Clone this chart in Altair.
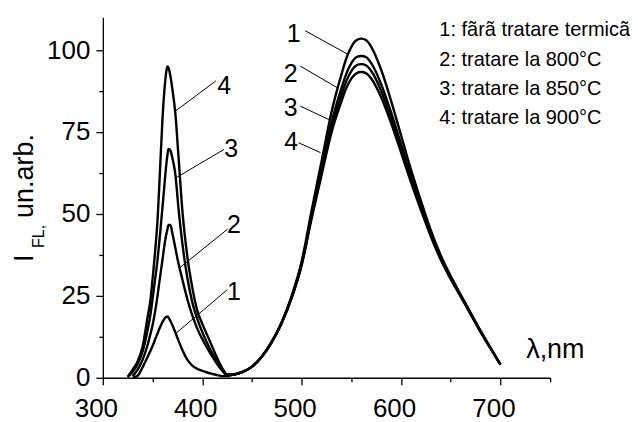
import altair as alt
import pandas as pd

# ---------------- data ----------------
wl = [325, 330, 335, 340, 345, 348, 350, 353, 355, 357, 360, 362, 364, 365, 366, 368,
      370, 373, 376, 380, 385, 390, 395, 400, 405, 410, 415, 420,
      425, 430, 440, 450, 460, 470, 480, 490, 500, 510, 520, 530, 540, 545, 550, 555,
      560, 565, 570, 580, 590, 600, 610, 620, 630, 640, 650, 660, 670, 680, 690, 700]

c1 = [None, 0, 0.6, 3.2, 6.3, 8.3, 9.7, 12, 13.5, 15, 17, 18, 18.6, 18.7, 18.4, 17.3,
      16, 13.8, 11.4, 8.5, 5.5, 3.7, 2.7, 2.1, 1.6, 1.2, 0.8, 0.5,
      0.5, 0.9, 1.7, 3.4, 6.5, 11, 17, 25, 35.5, 51, 66, 81, 92.5, 97.5, 101, 103,
      103.5, 103, 101, 94, 84.5, 74, 63.5, 54, 45, 37.3, 31, 25.4, 19.8, 14.3, 9.1, 4]

c2 = [None, 0.5, 2.5, 5.5, 10, 13.5, 16, 21, 25, 29.5, 36, 40.5, 44, 45.3, 46.6, 46.6,
      44, 39.5, 35, 30, 24, 19, 15, 11.8, 9, 6.5, 4.2, 2.2,
      0.8, 0.9, 1.7, 3.4, 6.5, 11, 16.9, 24.7, 34.9, 49.7, 63.8, 77.8, 88.3, 92.8, 96, 97.8,
      98.2, 97.8, 96, 89.6, 81, 71.3, 61.5, 52.6, 44, 36.6, 30.5, 25.1, 19.6, 14.2, 9.1, 4]

c3 = [0.2, 1.8, 4.2, 8, 14.5, 19.5, 24, 31, 36, 42, 52, 59, 65.5, 68, 69.8, 69.3,
      67, 62, 52, 41, 30.5, 23, 18, 14, 10.5, 7.5, 4.7, 2.4,
      0.9, 0.9, 1.7, 3.4, 6.5, 10.9, 16.8, 24.5, 34.6, 49.1, 62.8, 76.2, 86.3, 90.6, 93.6, 95.3,
      95.7, 95.3, 93.6, 87.6, 79.3, 70, 60.6, 51.9, 43.5, 36.3, 30.3, 24.9, 19.5, 14.1, 9.0, 4]

c4 = [0.3, 2.5, 5, 9.5, 18.5, 24, 30, 40, 48, 60, 79, 88, 93.8, 95, 94.7, 92,
      88, 80.5, 68, 51, 37, 27.5, 20.5, 16.5, 13, 9.5, 6, 3,
      1.0, 0.9, 1.7, 3.3, 6.4, 10.9, 16.7, 24.4, 34.3, 48.5, 61.8, 74.8, 84.3, 88.5, 91.3, 92.9,
      93.3, 92.9, 91.3, 85.6, 77.7, 68.8, 59.7, 51.2, 43.1, 36.0, 30.1, 24.8, 19.4, 14.0, 9.0, 4]

curve_names = ["1", "2", "3", "4"]

# curve-number annotations: label position and leader line (label end -> curve point)
ann_label = ["4", "3", "2", "1", "1", "2", "3", "4"]
ann_lx = [422, 429, 432, 432, 492, 489, 489, 489.5]
ann_ly = [89.3, 70, 46.8, 26.6, 105.2, 93, 82.6, 72.3]
lead_x1 = [413.7, 422, 425.3, 425.3, 503.7, 498.7, 498.7, 497]
lead_y1 = [90.6, 69.7, 45.3, 26.9, 105.9, 95.1, 82.9, 71.7]
lead_x2 = [373, 373.5, 377, 373.7, 546, 536.5, 528, 519]
lead_y2 = [81.4, 61, 33.5, 13.6, 98.8, 88.4, 78.7, 68.7]

legend_lines = ["1: fãrã tratare termicã",
                "2: tratare la 800°C",
                "3: tratare la 850°C",
                "4: tratare la 900°C"]

x_major = [300, 400, 500, 600, 700]
x_minor = [350, 450, 550, 650, 750]
y_major = [0, 25, 50, 75, 100]
y_minor = [12.5, 37.5, 62.5, 87.5]

# ---------------- build ----------------
rows = []
for name, ys in zip(curve_names, [c1, c2, c3, c4]):
    for x, y in zip(wl, ys):
        if y is not None:
            rows.append({"wl": x, "v": y, "curve": name})
df = pd.DataFrame(rows)

FONT = "Liberation Sans"
W, H = 448, 361

xs = alt.Scale(domain=[300, 750], nice=False, zero=False)
ys_ = alt.Scale(domain=[0, 110], nice=False)

axis_common = dict(title=None, grid=False, tickColor="black", tickWidth=1.3,
                   domainColor="black", domainWidth=1.3, labelColor="black",
                   labelFont=FONT, labelFontSize=26)

ax_x = alt.Axis(values=x_major, tickSize=7, labelPadding=11, labelOffset=-7,
                labelFlush=False, labelOverlap=False, orient="bottom", **axis_common)
ax_y = alt.Axis(values=y_major, tickSize=7, labelPadding=6, labelFlush=False,
                labelOverlap=False, orient="left", **axis_common)
ax_xm = alt.Axis(values=x_minor, tickSize=4, labels=False, domain=False, orient="bottom",
                 title=None, grid=False, tickColor="black", tickWidth=1.3)
ax_ym = alt.Axis(values=y_minor, tickSize=4, labels=False, domain=False, orient="left",
                 title=None, grid=False, tickColor="black", tickWidth=1.3)

lines = alt.Chart(df).mark_line(color="black", strokeWidth=2.4, interpolate="monotone").encode(
    x=alt.X("wl:Q", scale=xs, axis=ax_x),
    y=alt.Y("v:Q", scale=ys_, axis=ax_y),
    detail="curve:N",
)

minor = alt.Chart(pd.DataFrame({"wl": [300], "v": [0]})).mark_point(opacity=0).encode(
    x=alt.X("wl:Q", scale=xs, axis=ax_xm),
    y=alt.Y("v:Q", scale=ys_, axis=ax_ym),
)

ann = pd.DataFrame({"label": ann_label, "lx": ann_lx, "ly": ann_ly,
                    "x1": lead_x1, "y1": lead_y1, "x2": lead_x2, "y2": lead_y2})

leaders = alt.Chart(ann).mark_rule(color="black", strokeWidth=1).encode(
    x=alt.X("x1:Q", scale=xs, axis=None),
    y=alt.Y("y1:Q", scale=ys_, axis=None),
    x2="x2:Q",
    y2="y2:Q",
)

labels = alt.Chart(ann).mark_text(font=FONT, fontSize=25, color="black",
                                  align="center", baseline="middle", dy=1).encode(
    x=alt.X("lx:Q", scale=xs, axis=None),
    y=alt.Y("ly:Q", scale=ys_, axis=None),
    text="label:N",
)

one = pd.DataFrame({"a": [0]})

def txt(s, x, y, size, angle=0, align="left", baseline="alphabetic"):
    kw = dict(text=s, font=FONT, fontSize=size, color="black", align=align, baseline=baseline)
    if angle:
        kw["angle"] = angle
    return alt.Chart(one).mark_text(**kw).encode(x=alt.value(x), y=alt.value(y))

titles = [
    txt("I", -70, 245, 27, angle=270),
    txt("FL,", -59, 231, 16, angle=270),
    txt("un.arb.", -70, 201, 27, angle=270),
    txt("λ,nm", 424, 341, 27),
]
legend = [txt(s, 337, 19 + 29.4 * i, 20) for i, s in enumerate(legend_lines)]

chart = alt.layer(lines, minor, leaders, labels, *titles, *legend).resolve_axis(
    x="independent", y="independent"
).properties(
    width=W, height=H,
    padding={"left": 95, "top": 9, "right": 80, "bottom": 44},
    autosize=alt.AutoSizeParams(type="none"),
).configure_view(stroke=None)

chart.save("out.html", embed_options={"renderer": "svg", "actions": False})
